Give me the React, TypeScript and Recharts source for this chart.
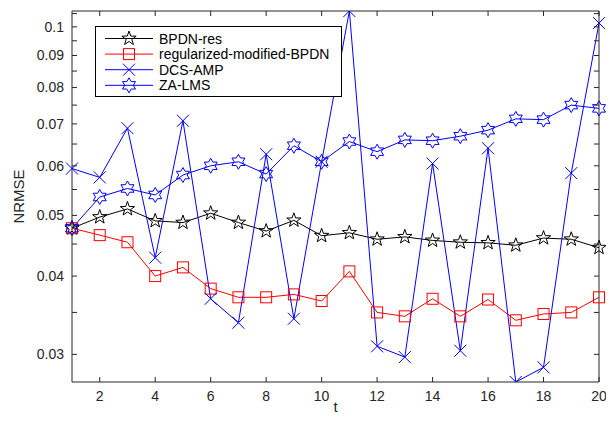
import React from 'react';
import { LineChart, Line, XAxis, YAxis, Legend } from 'recharts';

// NRMSE vs t
const tValues = [1, 2, 3, 4, 5, 6, 7, 8, 9, 10, 11, 12, 13, 14, 15, 16, 17, 18, 19, 20];
const bpdnRes = [0.0477, 0.0497, 0.0512, 0.049, 0.0487, 0.0504, 0.0487, 0.0472, 0.0491, 0.0464, 0.0469, 0.0458, 0.0462, 0.0456, 0.0453, 0.0452, 0.0448, 0.046, 0.0458, 0.0444];
const regModBpdn = [0.0477, 0.0465, 0.0453, 0.04, 0.0413, 0.0382, 0.037, 0.037, 0.0374, 0.0365, 0.0407, 0.035, 0.0345, 0.0368, 0.0345, 0.0367, 0.034, 0.0348, 0.035, 0.037];
const dcsAmp = [0.0594, 0.0575, 0.0689, 0.0428, 0.0708, 0.0368, 0.0337, 0.0626, 0.0342, 0.0609, 0.106, 0.0309, 0.0297, 0.0605, 0.0304, 0.064, 0.0271, 0.0286, 0.0584, 0.1014];
const zaLms = [0.0477, 0.0535, 0.0552, 0.0539, 0.058, 0.06, 0.0609, 0.0582, 0.0646, 0.0609, 0.0656, 0.0632, 0.066, 0.0658, 0.0669, 0.0684, 0.0713, 0.0711, 0.075, 0.0741];

const xTicks = [2, 4, 6, 8, 10, 12, 14, 16, 18, 20];
const yMajor = [0.03, 0.04, 0.05, 0.06, 0.07, 0.08, 0.09, 0.1];
const yMinor = [0.035, 0.045, 0.055, 0.065, 0.075, 0.085, 0.095, 0.105];

const data = tValues.map((t, i) => ({
  t,
  bpdn: bpdnRes[i],
  reg: regModBpdn[i],
  dcs: dcsAmp[i],
  za: zaLms[i],
}));

const AXIS = '#262626';
const FONT = '"Liberation Sans", Arial, sans-serif';

const star = (cx: number, cy: number, n: number, R: number, r: number) => {
  const pts: string[] = [];
  for (let i = 0; i < n * 2; i++) {
    const rad = i % 2 === 0 ? R : r;
    const a = -Math.PI / 2 + (i * Math.PI) / n;
    pts.push(`${(cx + rad * Math.cos(a)).toFixed(2)},${(cy + rad * Math.sin(a)).toFixed(2)}`);
  }
  return pts.join(' ');
};

function Marker({ kind, cx, cy, color }: { kind: string; cx: number; cy: number; color: string }) {
  if (kind === 'pentagram')
    return <polygon points={star(cx, cy, 5, 7.5, 3)} fill="none" stroke={color} strokeWidth={1} />;
  if (kind === 'square')
    return <rect x={cx - 5.5} y={cy - 5.5} width={11} height={11} fill="none" stroke={color} strokeWidth={1} />;
  if (kind === 'cross')
    return (
      <g stroke={color} strokeWidth={1}>
        <line x1={cx - 6} y1={cy - 6} x2={cx + 6} y2={cy + 6} />
        <line x1={cx - 6} y1={cy + 6} x2={cx + 6} y2={cy - 6} />
      </g>
    );
  return <polygon points={star(cx, cy, 6, 7.5, 4.3)} fill="none" stroke={color} strokeWidth={1} />;
}

const series = [
  { key: 'bpdn', name: 'BPDN-res', color: '#000000', marker: 'pentagram' },
  { key: 'reg', name: 'regularized-modified-BPDN', color: '#ff0000', marker: 'square' },
  { key: 'dcs', name: 'DCS-AMP', color: '#0000ff', marker: 'cross' },
  { key: 'za', name: 'ZA-LMS', color: '#0000ff', marker: 'hexagram' },
];

const isMajor = (v: number) => yMajor.some((m) => Math.abs(m - v) < 1e-9);

const LeftTick = (p: any) => (
  <g>
    <line x1={p.x} x2={p.x + 5} y1={p.y} y2={p.y} stroke={AXIS} />
    {isMajor(p.payload.value) && (
      <text x={p.x - 8} y={p.y} dy="0.35em" textAnchor="end" fontSize={14} fontFamily={FONT} fill={AXIS}>
        {String(p.payload.value)}
      </text>
    )}
  </g>
);
const RightTick = (p: any) => <line x1={p.x - 5} x2={p.x} y1={p.y} y2={p.y} stroke={AXIS} />;
const BottomTick = (p: any) => (
  <g>
    <line x1={p.x} x2={p.x} y1={p.y - 5} y2={p.y} stroke={AXIS} />
    <text x={p.x} y={p.y + 19} textAnchor="middle" fontSize={14} fontFamily={FONT} fill={AXIS}>
      {p.payload.value}
    </text>
  </g>
);
const TopTick = (p: any) => <line x1={p.x} x2={p.x} y1={p.y} y2={p.y + 5} stroke={AXIS} />;

function LegendBox() {
  return (
    <svg width={247} height={71} style={{ display: 'block' }}>
      <rect x={0.5} y={0.5} width={246} height={70} fill="#fff" stroke="#000" />
      {series.map((s, i) => {
        const y = 12.5 + i * 15.6;
        return (
          <g key={s.key}>
            <line x1={10} x2={58} y1={y} y2={y} stroke={s.color} />
            <Marker kind={s.marker} cx={34} cy={y} color={s.color} />
            <text x={64} y={y} dy="0.36em" fontSize={14} fontFamily={FONT} fill="#000">
              {s.name}
            </text>
          </g>
        );
      })}
    </svg>
  );
}

export default function App() {
  const yTicks = [...yMajor, ...yMinor].sort((a, b) => a - b);
  return (
    <div style={{ margin: -8, width: 614, height: 422, background: '#fff' }}>
      <LineChart width={614} height={422} data={data} margin={{ top: 10, right: 14, bottom: 15, left: 12 }}>
        <XAxis
          xAxisId="bottom"
          dataKey="t"
          type="number"
          domain={[1, 20]}
          ticks={xTicks}
          interval={0}
          height={25}
          tickSize={0}
          tickMargin={0}
          tickLine={false}
          stroke={AXIS}
          tick={BottomTick}
          label={(props: any) => {
            const vb = props.viewBox;
            return (
              <text x={vb.x + vb.width / 2} y={412} textAnchor="middle" fontSize={15} fontFamily={FONT} fill={AXIS}>
                t
              </text>
            );
          }}
        />
        <XAxis
          xAxisId="top"
          orientation="top"
          dataKey="t"
          type="number"
          domain={[1, 20]}
          ticks={xTicks}
          interval={0}
          height={1}
          tickSize={0}
          tickMargin={0}
          tickLine={false}
          stroke={AXIS}
          tick={TopTick}
        />
        <YAxis
          yAxisId="left"
          type="number"
          scale="log"
          domain={[0.0271, 0.106]}
          allowDataOverflow
          ticks={yTicks}
          interval={0}
          width={60}
          tickSize={0}
          tickMargin={0}
          tickLine={false}
          stroke={AXIS}
          tick={LeftTick}
          label={(props: any) => {
            const vb = props.viewBox;
            const cy = vb.y + vb.height / 2;
            return (
              <text x={24} y={cy} transform={`rotate(-90 24 ${cy})`} textAnchor="middle" fontSize={15} fontFamily={FONT} fill={AXIS}>
                NRMSE
              </text>
            );
          }}
        />
        <YAxis
          yAxisId="right"
          orientation="right"
          type="number"
          scale="log"
          domain={[0.0271, 0.106]}
          allowDataOverflow
          ticks={yTicks}
          interval={0}
          width={1}
          tickSize={0}
          tickMargin={0}
          tickLine={false}
          stroke={AXIS}
          tick={RightTick}
        />
        <Legend
          verticalAlign="middle"
          align="center"
          layout="horizontal"
          content={() => <LegendBox />}
          wrapperStyle={{ position: 'absolute', left: 95, top: 26, width: 247, height: 71, right: 'auto', bottom: 'auto' }}
        />
        {series.map((s) => (
          <Line
            key={s.key}
            xAxisId="bottom"
            yAxisId="left"
            dataKey={s.key}
            name={s.name}
            stroke={s.color}
            strokeWidth={1}
            isAnimationActive={false}
            dot={(p: any) => <Marker key={`${s.key}-${p.index}`} kind={s.marker} cx={p.cx} cy={p.cy} color={s.color} />}
            activeDot={false}
          />
        ))}
      </LineChart>
    </div>
  );
}
